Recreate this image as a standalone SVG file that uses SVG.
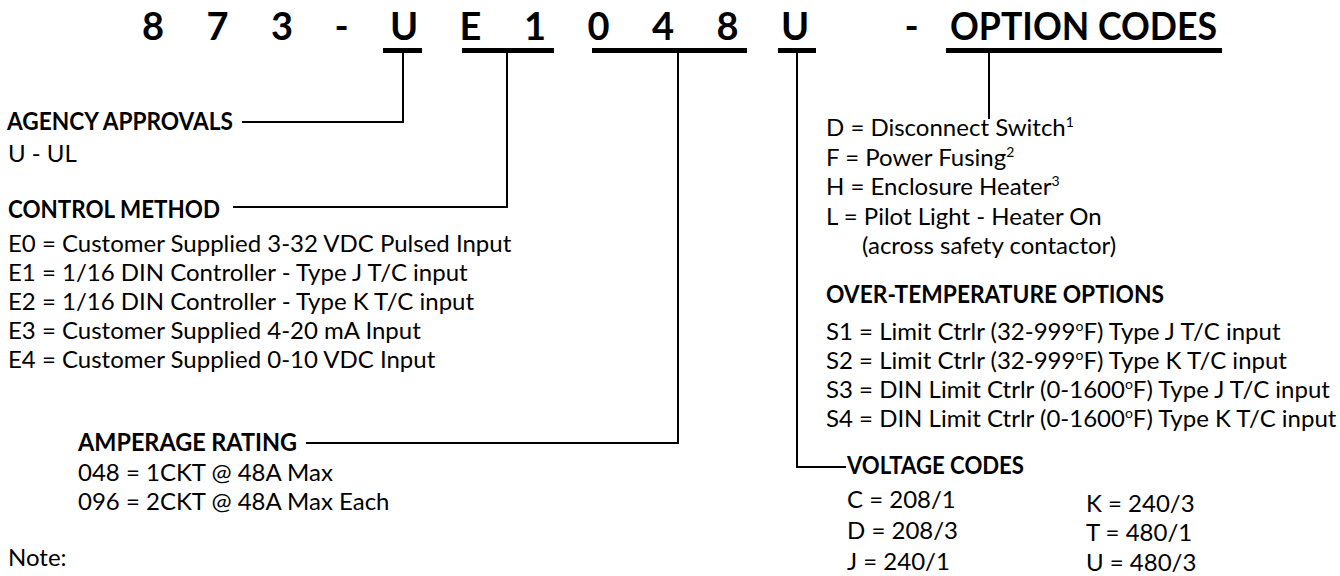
<svg xmlns="http://www.w3.org/2000/svg" width="1340" height="576" viewBox="0 0 1340 576">
<style>
text{font-family:Lato,"Open Sans","Liberation Sans",sans-serif;fill:#000}
.hd{font-size:38px;font-weight:700;text-anchor:middle}
.sec{font-size:24px;font-weight:700}
.bd{font-size:24px}
.sup{font-size:14px}
.ul{stroke:#000;stroke-width:5;fill:none}
.cn{stroke:#000;stroke-width:2;fill:none}
</style>
<rect width="1340" height="576" fill="#fff"/>
<g id="part-number">
<text class="hd" x="153" y="40">8</text>
<text class="hd" x="217.5" y="40">7</text>
<text class="hd" x="282" y="40">3</text>
<text class="hd" x="341.5" y="40">-</text>
<text class="hd" x="404" y="40">U</text>
<text class="hd" x="470.5" y="40">E</text>
<text class="hd" x="535" y="40">1</text>
<text class="hd" x="598.5" y="40">0</text>
<text class="hd" x="663" y="40">4</text>
<text class="hd" x="727.5" y="40">8</text>
<text class="hd" x="795" y="40">U</text>
<text class="hd" x="911.5" y="40">-</text>
<text class="hd" x="950" y="40" style="text-anchor:start" textLength="267" lengthAdjust="spacingAndGlyphs">OPTION CODES</text>
<path class="ul" d="M383 50.5H422M462 50.5H554M592 50.5H747M778 50.5H816M946 50.5H1222"/>
</g>
<g id="connectors">
<path class="cn" d="M242 122H403V53"/>
<path class="cn" d="M233 207H507V53"/>
<path class="cn" d="M306 443H678V53"/>
<path class="cn" d="M797 53V467H846"/>
<path class="cn" d="M989 53V119"/>
</g>
<g id="agency-approvals">
<text class="sec" x="7" y="130" textLength="226" lengthAdjust="spacingAndGlyphs">AGENCY APPROVALS</text>
<text class="bd" x="8" y="162">U - UL</text>
</g>
<g id="control-method">
<text class="sec" x="8" y="218" textLength="212" lengthAdjust="spacingAndGlyphs">CONTROL METHOD</text>
<text class="bd" x="8" y="252">E0 = Customer Supplied 3-32 VDC Pulsed Input</text>
<text class="bd" x="8" y="281">E1 = 1/16 DIN Controller - Type J T/C input</text>
<text class="bd" x="8" y="310">E2 = 1/16 DIN Controller - Type K T/C input</text>
<text class="bd" x="8" y="339">E3 = Customer Supplied 4-20 mA Input</text>
<text class="bd" x="8" y="368">E4 = Customer Supplied 0-10 VDC Input</text>
</g>
<g id="amperage-rating">
<text class="sec" x="78" y="451" textLength="219" lengthAdjust="spacingAndGlyphs">AMPERAGE RATING</text>
<text class="bd" x="78" y="481">048 = 1CKT @ 48A Max</text>
<text class="bd" x="78" y="510">096 = 2CKT @ 48A Max Each</text>
</g>
<g id="note">
<text class="bd" x="8" y="566">Note:</text>
</g>
<g id="option-codes">
<text class="bd" x="826" y="136">D = Disconnect Switch<tspan class="sup" dy="-9">1</tspan></text>
<text class="bd" x="826" y="166">F = Power Fusing<tspan class="sup" dy="-9">2</tspan></text>
<text class="bd" x="826" y="195">H = Enclosure Heater<tspan class="sup" dy="-9">3</tspan></text>
<text class="bd" x="826" y="225">L = Pilot Light - Heater On</text>
<text class="bd" x="862" y="254">(across safety contactor)</text>
</g>
<g id="over-temperature-options">
<text class="sec" x="826" y="303" textLength="338" lengthAdjust="spacingAndGlyphs">OVER-TEMPERATURE OPTIONS</text>
<text class="bd" x="826" y="340">S1 = Limit Ctrlr (32-999<tspan class="sup" dy="-9">o</tspan><tspan dy="9">F) Type J T/C input</tspan></text>
<text class="bd" x="826" y="369">S2 = Limit Ctrlr (32-999<tspan class="sup" dy="-9">o</tspan><tspan dy="9">F) Type K T/C input</tspan></text>
<text class="bd" x="826" y="398">S3 = DIN Limit Ctrlr (0-1600<tspan class="sup" dy="-9">o</tspan><tspan dy="9">F) Type J T/C input</tspan></text>
<text class="bd" x="826" y="427">S4 = DIN Limit Ctrlr (0-1600<tspan class="sup" dy="-9">o</tspan><tspan dy="9">F) Type K T/C input</tspan></text>
</g>
<g id="voltage-codes">
<text class="sec" x="847" y="474" textLength="177" lengthAdjust="spacingAndGlyphs">VOLTAGE CODES</text>
<text class="bd" x="847" y="508">C = 208/1</text>
<text class="bd" x="847" y="539">D = 208/3</text>
<text class="bd" x="847" y="570">J = 240/1</text>
<text class="bd" x="1086" y="512">K = 240/3</text>
<text class="bd" x="1086" y="541">T = 480/1</text>
<text class="bd" x="1086" y="571">U = 480/3</text>
</g>
</svg>
